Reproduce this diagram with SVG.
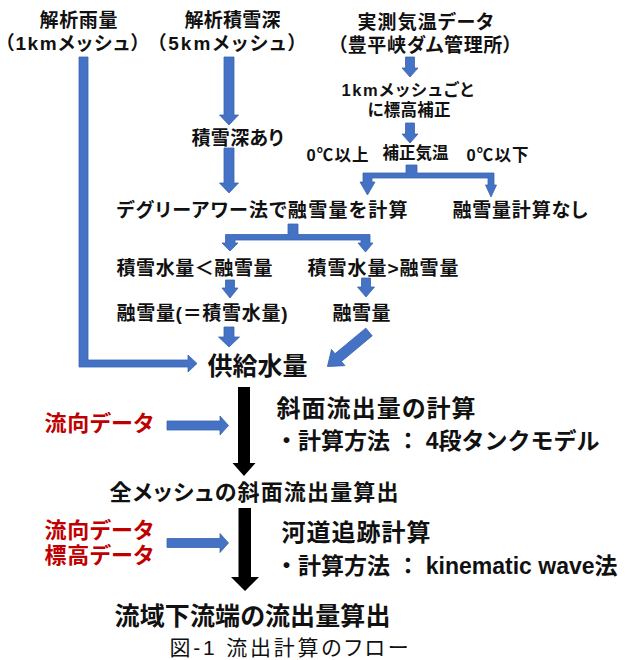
<svg xmlns="http://www.w3.org/2000/svg" width="631" height="660" viewBox="0 0 631 660">
<style>
text{font-family:"Liberation Sans","Noto Sans CJK JP",sans-serif;font-weight:700;fill:#111;text-anchor:middle;font-feature-settings:"palt";}
.s19{font-size:19px}
.s16{font-size:16.5px}
.s22{font-size:22px}
.s24{font-size:24px}
.s25{font-size:25px}
.m{font-size:23px;text-anchor:start;font-feature-settings:normal}
.red{fill:#C00000}
.norm{font-weight:400}
.ba{fill:#4472C4;stroke:#3B64AE;stroke-width:0.8}
.bk{fill:#000}
</style>
<rect width="631" height="660" fill="#fff"/>
<g id="connectors">
<polygon class="ba" points="79,57 88,57 88,360 188,360 188,355 197,363.5 188,372 188,367 79,367"/>
<polygon class="ba" points="224,57 234,57 234,115 238.5,115 229,125 219.5,115 224,115"/>
<polygon class="ba" points="224,148 234,148 234,183 238.5,183 229,193 219.5,183 224,183"/>
<polygon class="ba" points="405.5,57 414.5,57 414.5,68 418,68 410,77 402,68 405.5,68"/>
<polygon class="ba" points="405.5,123 414.5,123 414.5,134 418,134 410,143 402,134 405.5,134"/>
<polygon class="ba" points="406,165 417,165 417,173 494,173 494,185 496.5,185 491,197 485.5,185 488,185 488,178 372,178 372,182 375,182 367.5,195 360,182 363,182 363,173 406,173"/>
<polygon class="ba" points="288,224 298,224 298,234.5 370,234.5 370,243 373,243 365.5,252 358,243 361,243 361,240 235,240 235,243 238,243 230,251 222,243 225.5,243 225.5,234.5 288,234.5"/>
<polygon class="ba" points="225.5,280 234.5,280 234.5,288 238,288 230,298 222,288 225.5,288"/>
<polygon class="ba" points="361.5,278 370.5,278 370.5,287 374.5,287 366,297 357.5,287 361.5,287"/>
<polygon class="ba" points="224,327 234,327 234,337 239.5,337 229,347 218.5,337 224,337"/>
<polygon class="ba" transform="translate(369,332) rotate(140.3)" points="0,-5 40,-5 40,-10.5 54,0 40,10.5 40,5 0,5"/>
<polygon class="ba" points="167,421 220,421 220,416 228.5,425.5 220,435 220,430 167,430"/>
<polygon class="ba" points="167,538.5 220,538.5 220,533.5 228.5,543 220,552.5 220,547.5 167,547.5"/>
<polygon class="bk" points="238,387 250,387 250,463 255.5,463 244,476 232.5,463 238,463"/>
<polygon class="bk" points="238.5,508 251,508 251,577 259,577 245,591 231,577 238.5,577"/>
</g>
<g id="n-rain"><text class="s19" x="78.5" y="27.2" textLength="78" lengthAdjust="spacing">解析雨量</text>
<text class="s19" x="72.5" y="50.2" textLength="136" lengthAdjust="spacing">（1kmメッシュ）</text></g>
<g id="n-snowdepth"><text class="s19" x="232.5" y="27.2" textLength="96" lengthAdjust="spacing">解析積雪深</text>
<text class="s19" x="227" y="50.2" textLength="141" lengthAdjust="spacing">（5kmメッシュ）</text></g>
<g id="n-temp"><text class="s19" x="425.5" y="29.2" textLength="136" lengthAdjust="spacing">実測気温データ</text>
<text class="s19" x="425" y="52.2" textLength="175" lengthAdjust="spacing">（豊平峡ダム管理所）</text></g>
<g id="n-correct"><text class="s16" x="407.5" y="96.3" textLength="132" lengthAdjust="spacing">1kmメッシュごと</text>
<text class="s16" x="409" y="116.3" textLength="83" lengthAdjust="spacing">に標高補正</text></g>
<g id="n-ctemp"><text class="s16" x="415.5" y="159" textLength="66" lengthAdjust="spacing">補正気温</text></g>
<g id="l-above"><text class="s16" x="337.5" y="161" textLength="62" lengthAdjust="spacing">0℃以上</text></g>
<g id="l-below"><text class="s16" x="497.5" y="161" textLength="62" lengthAdjust="spacing">0℃以下</text></g>
<g id="n-snowexist"><text class="s19" x="237.5" y="145" textLength="92" lengthAdjust="spacing">積雪深あり</text></g>
<g id="n-degree"><text class="s19" x="262" y="217.2" textLength="291" lengthAdjust="spacing">デグリーアワー法で融雪量を計算</text></g>
<g id="n-nomelt"><text class="s19" x="520" y="217.2" textLength="135" lengthAdjust="spacing">融雪量計算なし</text></g>
<g id="n-lt"><text class="s19" x="194.5" y="275.2" textLength="156" lengthAdjust="spacing">積雪水量＜融雪量</text></g>
<g id="n-gt"><text class="s19" x="383" y="275.2" textLength="151" lengthAdjust="spacing">積雪水量&gt;融雪量</text></g>
<g id="n-melteq"><text class="s19" x="202" y="320.2" textLength="171" lengthAdjust="spacing">融雪量(＝積雪水量)</text></g>
<g id="n-melt"><text class="s19" x="361.5" y="320.2" textLength="58" lengthAdjust="spacing">融雪量</text></g>
<g id="n-supply"><text class="s25" x="257.5" y="374.5" textLength="100" lengthAdjust="spacing">供給水量</text></g>
<g id="n-flowdir1"><text class="s22 red" x="99" y="431.4" textLength="109" lengthAdjust="spacing">流向データ</text></g>
<g id="n-slope"><text class="s24" x="376" y="417" textLength="199" lengthAdjust="spacing">斜面流出量の計算</text>
<text class="m" x="275" y="448.7">・計算方法 ： 4段タンクモデル</text></g>
<g id="n-allmesh"><text class="s22" x="254" y="500.4" textLength="289" lengthAdjust="spacing">全メッシュの斜面流出量算出</text></g>
<g id="n-flowdir2"><text class="s22 red" x="99" y="538.4" textLength="109" lengthAdjust="spacing">流向データ</text>
<text class="s22 red" x="99" y="563.4" textLength="109" lengthAdjust="spacing">標高データ</text></g>
<g id="n-river"><text class="s24" x="356" y="541" textLength="149" lengthAdjust="spacing">河道追跡計算</text>
<text class="m" x="275" y="573.7">・計算方法 ： kinematic wave法</text></g>
<g id="n-outlet"><text class="s25" x="252.5" y="624.5" textLength="276" lengthAdjust="spacing">流域下流端の流出量算出</text></g>
<g id="caption"><text class="norm" style="font-size:21px" x="289" y="655" textLength="239" lengthAdjust="spacing">図-1 流出計算のフロー</text></g>
</svg>
